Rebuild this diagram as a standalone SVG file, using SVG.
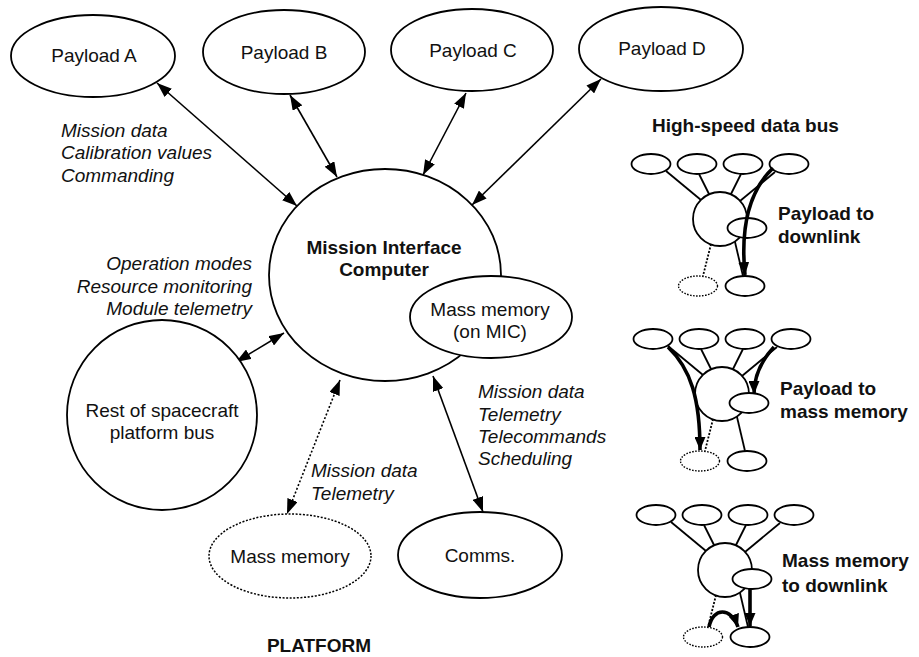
<svg xmlns="http://www.w3.org/2000/svg" width="919" height="657" viewBox="0 0 919 657">
  <style>
    .node { fill: #fff; stroke: #000; stroke-width: 1.8; }
    .dot { fill: #fff; stroke: #000; stroke-width: 1.5; stroke-dasharray: 2 1.6; }
    .lbl { font-family: "Liberation Sans", Arial, sans-serif; font-size: 19px; fill: #111; }
    .c { text-anchor: middle; }
    .b { font-weight: bold; }
    .it { font-style: italic; }
    .r { text-anchor: end; }
    .link { stroke: #000; stroke-width: 1.6; fill: none; }
    .dlink { stroke: #000; stroke-width: 1.6; fill: none; stroke-dasharray: 2 2; }
    .thin { stroke: #000; stroke-width: 1.8; fill: none; }
    .thick { stroke: #000; stroke-width: 3.6; fill: none; }
    .sn { fill: #fff; stroke: #000; stroke-width: 1.8; }
    .sd { fill: #fff; stroke: #000; stroke-width: 1.4; stroke-dasharray: 1.6 1.4; }
  </style>
  <defs>
    <marker id="ah" viewBox="0 0 15 11" refX="15" refY="5.5" markerWidth="15" markerHeight="11" markerUnits="userSpaceOnUse" orient="auto-start-reverse">
      <path d="M0,0 L15,5.5 L0,11 z" fill="#000"/>
    </marker>
    <marker id="ahs" viewBox="0 0 13 11" refX="13" refY="5.5" markerWidth="13" markerHeight="11" markerUnits="userSpaceOnUse" orient="auto">
      <path d="M0,0 L13,5.5 L0,11 z" fill="#000"/>
    </marker>
    <!-- miniature bus layout: four payloads, MIC, on-board memory, platform memory, downlink -->
    <g id="bus">
      <line class="thin" x1="15" y1="7" x2="50" y2="36"/>
      <line class="thin" x1="48" y1="10" x2="58" y2="30"/>
      <line class="thin" x1="90" y1="10" x2="80" y2="30"/>
      <line class="thin" x1="124" y1="8" x2="89" y2="37"/>
      <line class="thin" x1="60" y1="80" x2="52" y2="112" stroke-dasharray="2 1.6" stroke-width="1.4"/>
      <line class="thin" x1="84" y1="78" x2="92" y2="112"/>
      <ellipse class="sn" cx="0" cy="0" rx="19.5" ry="10"/>
      <ellipse class="sn" cx="46" cy="0" rx="19.5" ry="10"/>
      <ellipse class="sn" cx="92" cy="0" rx="19.5" ry="10"/>
      <ellipse class="sn" cx="138" cy="0" rx="19.5" ry="10"/>
      <circle class="sn" cx="69" cy="55" r="27"/>
      <ellipse class="sn" cx="96" cy="64" rx="19.5" ry="10"/>
      <ellipse class="sd" cx="47" cy="122" rx="19.5" ry="10"/>
      <ellipse class="sn" cx="94" cy="122" rx="19.5" ry="10"/>
    </g>
  </defs>

  <rect width="919" height="657" fill="#fff"/>

  <!-- connectors of the main diagram -->
  <g id="connectors">
    <line class="link" x1="157" y1="83" x2="297" y2="206" marker-start="url(#ah)" marker-end="url(#ah)"/>
    <line class="link" x1="290" y1="95" x2="337" y2="177" marker-start="url(#ah)" marker-end="url(#ah)"/>
    <line class="link" x1="466" y1="93" x2="423" y2="175" marker-start="url(#ah)" marker-end="url(#ah)"/>
    <line class="link" x1="601" y1="79" x2="472" y2="205" marker-start="url(#ah)" marker-end="url(#ah)"/>
    <line class="link" x1="284" y1="333" x2="236" y2="362" marker-start="url(#ah)" marker-end="url(#ah)"/>
    <line class="dlink" x1="340" y1="380" x2="287" y2="514" marker-start="url(#ah)" marker-end="url(#ah)"/>
    <line class="link" x1="433" y1="376" x2="483" y2="512" marker-start="url(#ah)" marker-end="url(#ah)"/>
  </g>

  <g id="payload-a">
    <ellipse class="node" cx="93" cy="56" rx="82" ry="41"/>
    <text class="lbl c" x="94" y="62">Payload A</text>
  </g>
  <g id="payload-b">
    <ellipse class="node" cx="284" cy="52" rx="81" ry="42"/>
    <text class="lbl c" x="284" y="59">Payload B</text>
  </g>
  <g id="payload-c">
    <ellipse class="node" cx="472" cy="50" rx="81" ry="41"/>
    <text class="lbl c" x="473" y="57">Payload C</text>
  </g>
  <g id="payload-d">
    <ellipse class="node" cx="661" cy="49" rx="82" ry="42"/>
    <text class="lbl c" x="662" y="55">Payload D</text>
  </g>

  <g id="mic">
    <ellipse class="node" cx="385" cy="275" rx="116" ry="106"/>
    <text class="lbl c b" x="384" y="254">Mission Interface</text>
    <text class="lbl c b" x="384" y="276">Computer</text>
  </g>
  <g id="mic-memory">
    <ellipse class="node" cx="491" cy="317" rx="81" ry="41"/>
    <text class="lbl c" x="490" y="316">Mass memory</text>
    <text class="lbl c" x="490" y="338">(on MIC)</text>
  </g>

  <g id="platform-bus">
    <circle class="node" cx="162" cy="415" r="95"/>
    <text class="lbl c" x="162" y="417">Rest of spacecraft</text>
    <text class="lbl c" x="162" y="439">platform bus</text>
  </g>
  <g id="mass-memory">
    <ellipse class="dot" cx="290" cy="556" rx="81" ry="42"/>
    <text class="lbl c" x="290" y="563">Mass memory</text>
  </g>
  <g id="comms">
    <ellipse class="node" cx="480" cy="555" rx="82" ry="43"/>
    <text class="lbl c" x="480" y="562">Comms.</text>
  </g>

  <!-- flow labels -->
  <g id="labels">
    <text class="lbl it" x="61" y="137">Mission data</text>
    <text class="lbl it" x="61" y="159">Calibration values</text>
    <text class="lbl it" x="61" y="182">Commanding</text>
    <text class="lbl it r" x="252" y="270">Operation modes</text>
    <text class="lbl it r" x="252" y="293">Resource monitoring</text>
    <text class="lbl it r" x="252" y="315">Module telemetry</text>
    <text class="lbl it" x="311" y="477">Mission data</text>
    <text class="lbl it" x="311" y="500">Telemetry</text>
    <text class="lbl it" x="478" y="398">Mission data</text>
    <text class="lbl it" x="478" y="421">Telemetry</text>
    <text class="lbl it" x="478" y="443">Telecommands</text>
    <text class="lbl it" x="478" y="465">Scheduling</text>
    <text class="lbl c b" x="319" y="652">PLATFORM</text>
    <text class="lbl b" x="652" y="132">High-speed data bus</text>
  </g>

  <!-- data paths over the high-speed bus -->
  <g id="flow-payload-downlink" transform="translate(651,164)">
    <use href="#bus"/>
    <path class="thick" d="M122,4 C100,25 89,60 94,111" marker-end="url(#ahs)"/>
    <text class="lbl b" x="127" y="56">Payload to</text>
    <text class="lbl b" x="127" y="79">downlink</text>
  </g>
  <g id="flow-payload-memory" transform="translate(653,339)">
    <use href="#bus"/>
    <path class="thick" d="M15,8 C38,30 47,60 47,111" marker-end="url(#ahs)"/>
    <path class="thick" d="M121,8 C108,22 101,38 101,55" marker-end="url(#ahs)"/>
    <text class="lbl b" x="127" y="56">Payload to</text>
    <text class="lbl b" x="127" y="79">mass memory</text>
  </g>
  <g id="flow-memory-downlink" transform="translate(656,515)">
    <use href="#bus"/>
    <path class="thick" d="M94,74 L94,111" marker-end="url(#ahs)"/>
    <path class="thick" d="M53,112 C57,92 75,92 82,112" marker-end="url(#ahs)"/>
    <text class="lbl b" x="126" y="52">Mass memory</text>
    <text class="lbl b" x="126" y="77">to downlink</text>
  </g>
</svg>
